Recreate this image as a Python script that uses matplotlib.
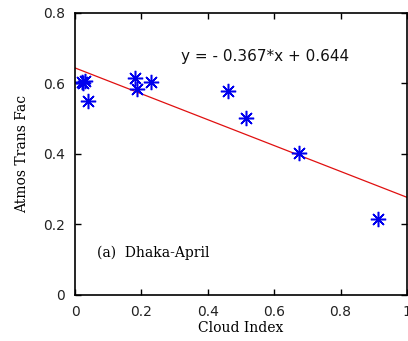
import numpy as np
import matplotlib
matplotlib.use('Agg')
import matplotlib.pyplot as plt

# values
cloud_index = [0.020, 0.030, 0.025, 0.040, 0.181, 0.186, 0.228, 0.462, 0.514, 0.675, 0.914]
atmos_trans = [0.603, 0.607, 0.600, 0.551, 0.616, 0.583, 0.604, 0.580, 0.503, 0.402, 0.216]
slope, intercept = -0.367, 0.644
fit_x = [0.0, 1.0]

fig = plt.figure(figsize=(4.08, 3.41), dpi=100)
ax = fig.add_axes([0.184, 0.135, 0.8135, 0.827])

ax.plot(fit_x, [slope * x + intercept for x in fit_x], color='#e01010', lw=0.9)
ax.plot(cloud_index, atmos_trans, linestyle='none', marker=(8, 2, 0),
        markersize=11, markeredgewidth=1.1, color='#0000ee')

ax.set_xlim(0, 1)
ax.set_ylim(0, 0.8)
ax.set_xticks([0, 0.2, 0.4, 0.6, 0.8, 1])
ax.set_xticklabels(['0', '0.2', '0.4', '0.6', '0.8', '1'])
ax.set_yticks([0, 0.2, 0.4, 0.6, 0.8])
ax.set_yticklabels(['0', '0.2', '0.4', '0.6', '0.8'])
ax.tick_params(direction='in', top=True, right=True, length=4, width=1,
               labelsize=10, pad=7)
for lbl in ax.get_xticklabels() + ax.get_yticklabels():
    lbl.set_family('DejaVu Sans')
    lbl.set_color('#222222')
for s in ax.spines.values():
    s.set_linewidth(1.2)

ax.set_xlabel('Cloud Index', family='DejaVu Serif', fontsize=10, labelpad=2)
ax.set_ylabel('Atmos Trans Fac', family='DejaVu Serif', fontsize=10, labelpad=10)

ax.text(0.32, 0.676, 'y = - 0.367*x + 0.644', family='DejaVu Sans', fontsize=11,
        va='center', ha='left', color='#111111')
ax.text(0.065, 0.119, '(a)  Dhaka-April', family='DejaVu Serif', fontsize=10,
        va='center', ha='left')

fig.savefig('out.png', dpi=100)
